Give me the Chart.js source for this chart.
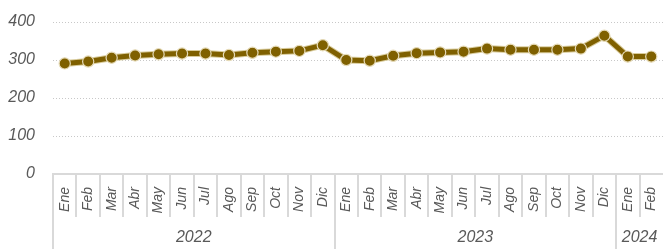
<!DOCTYPE html>
<html><head><meta charset="utf-8">
<script src="https://cdn.jsdelivr.net/npm/chart.js@4"></script>
<style>html,body{margin:0;padding:0;background:#fff}#wrap{width:663px;height:249px}</style>
</head><body><div id="wrap"><canvas id="c" width="663" height="249"></canvas></div>
<script>
const months = ['Ene','Feb','Mar','Abr','May','Jun','Jul','Ago','Sep','Oct','Nov','Dic',
                'Ene','Feb','Mar','Abr','May','Jun','Jul','Ago','Sep','Oct','Nov','Dic',
                'Ene','Feb'];
const years = ['2022','2023','2024'];
const yearSpans = [12,12,2];
const values = [291,296,306,312,315,317,317,313,319,322,324,339,
                300,298,311,318,320,322,330,327,327,327,330,364,
                309,309];
const yMin = 0, yMax = 400, yStep = 100;

const FONT = "'Liberation Sans',Arial,sans-serif";
const GRAY = '#595959';
const AXIS = '#d9d9d9';

const groupPlugin = {
  id: 'groups',
  afterDraw(chart) {
    const x = chart.scales.x, ctx = chart.ctx, area = chart.chartArea;
    const step = x.getPixelForValue(1) - x.getPixelForValue(0);
    const b = i => x.getPixelForValue(i) - step / 2;
    ctx.save();
    ctx.strokeStyle = AXIS; ctx.lineWidth = 2;
    for (let i = 0; i < months.length; i++) {
      const px = Math.round(b(i));
      ctx.beginPath(); ctx.moveTo(px, area.bottom); ctx.lineTo(px, area.bottom + 43); ctx.stroke();
    }
    let start = 0;
    ctx.fillStyle = GRAY;
    ctx.font = 'italic 16px ' + FONT;
    ctx.textAlign = 'center'; ctx.textBaseline = 'middle';
    years.forEach((yr, k) => {
      const end = start + yearSpans[k];
      const px = Math.round(b(start));
      ctx.beginPath(); ctx.moveTo(px, area.bottom); ctx.lineTo(px, chart.height); ctx.stroke();
      const cx = (b(start) + Math.min(b(end), chart.width)) / 2;
      ctx.fillText(yr, cx, area.bottom + 64);
      start = end;
    });
    ctx.restore();
  }
};

new Chart(document.getElementById('c'), {
  type: 'line',
  data: {
    labels: months,
    datasets: [
      {
        data: values, order: 0,
        borderColor: '#7F6000', borderWidth: 5,
        pointRadius: 5.6, pointBackgroundColor: '#7F6000',
        pointBorderColor: '#e6dbb8', pointBorderWidth: 1.2,
        tension: 0, clip: false
      },
      {
        data: values, order: 1,
        borderColor: '#d9cc9c', borderWidth: 7,
        pointRadius: 0, tension: 0, clip: false
      }
    ]
  },
  options: {
    responsive: false, animation: false, devicePixelRatio: 1,
    layout: { autoPadding: false, padding: { top: 22, right: 0, left: 0, bottom: 0 } },
    plugins: { legend: { display: false }, tooltip: { enabled: false } },
    scales: {
      x: {
        type: 'category', offset: true,
        grid: { display: false, drawTicks: false },
        border: { display: true, color: AXIS, width: 2 },
        ticks: {
          minRotation: 90, maxRotation: 90, autoSkip: false, padding: 13,
          color: GRAY, font: { family: FONT, size: 14, style: 'italic' }
        },
        afterFit(s) { s.height = 75; s.paddingLeft = 0; s.paddingRight = 0; }
      },
      y: {
        min: yMin, max: yMax,
        grid: {
          drawTicks: false, lineWidth: 1,
          color: c => (c.tick && c.tick.value === 0) ? 'rgba(0,0,0,0)' : '#c8c8c8'
        },
        border: { display: false, dash: [1, 2] },
        ticks: {
          stepSize: yStep, padding: 18, color: GRAY,
          font: { family: FONT, size: 16, style: 'italic' }
        },
        afterFit(s) { s.width = 53; s.paddingTop = 0; s.paddingBottom = 0; }
      }
    }
  },
  plugins: [groupPlugin]
});
</script>
</body></html>
